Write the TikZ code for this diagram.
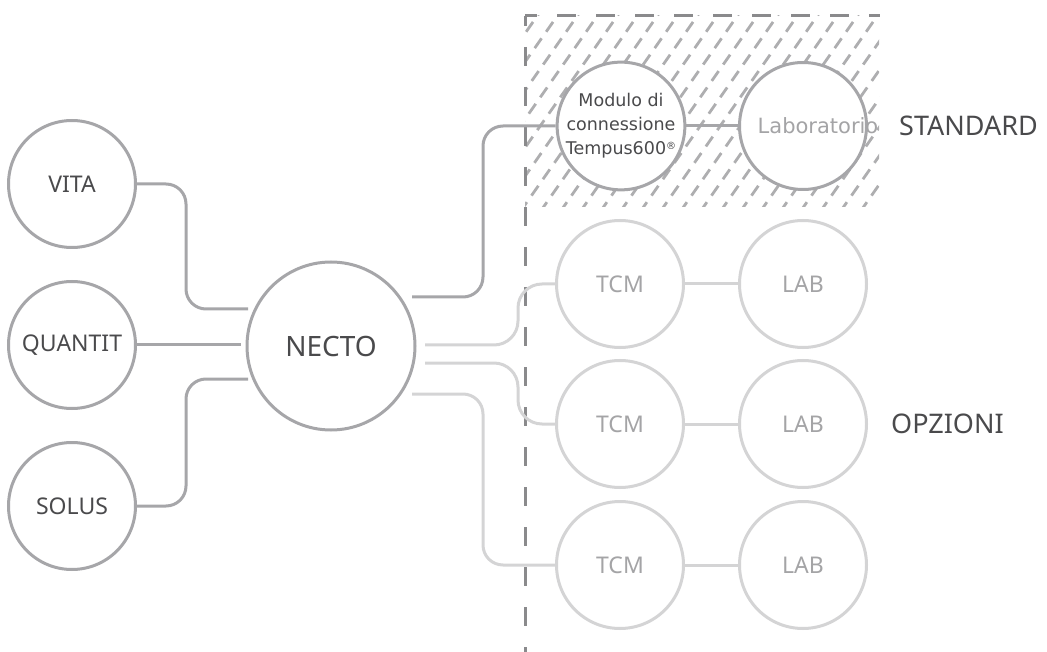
\documentclass[tikz,border=0pt]{standalone}
\usepackage{fontspec}
\setmainfont{Noto Sans}
\newfontfamily\dvs{DejaVu Sans}
\usetikzlibrary{calc}
\definecolor{cdark}{HTML}{A6A6A9}
\definecolor{clight}{HTML}{D4D4D5}
\definecolor{ctext}{HTML}{4A4A4C}
\definecolor{cltext}{HTML}{A4A4A6}
\definecolor{cdash}{HTML}{8A8A8C}
\definecolor{chatch}{HTML}{AEAEB0}
\tikzset{
  bigc/.style={circle, draw=cdark, line width=3pt, fill=white, minimum size=127pt, inner sep=0pt, text=ctext, font=\fontsize{23}{27}\selectfont},
  lightc/.style={bigc, draw=clight, text=cltext},
  darkline/.style={draw=cdark, line width=3pt, rounded corners=20pt},
  lightline/.style={draw=clight, line width=3pt, rounded corners=20pt},
  sline/.style={draw=clight, line width=3pt, rounded corners=24pt},
  border/.style={draw=cdash, line width=3pt},
  hatchline/.style={draw=chatch, line width=2.8pt, dash pattern=on 12pt off 8pt},
  sidelabel/.style={text=ctext, font=\fontsize{27}{30}\selectfont, anchor=west, inner sep=0pt}
}
\begin{document}
\begin{tikzpicture}[x=1pt,y=-1pt]
\useasboundingbox (0,0) rectangle (1047,652);
% hatch
\begin{scope}
  \clip (525,16) rectangle (879,207);
  \foreach \x in {360,380,...,900} {
    \draw[hatchline] (\x,212) -- ++(140,-200);
  }
\end{scope}
% dashed border
\draw[border, dash pattern=on 19pt off 20pt, dash phase=7pt] (525,16) -- (880,16);
\draw[border, dash pattern=on 19pt off 21pt, dash phase=9pt] (525,16) -- (525,652);

% nodes
\node[bigc] (vita) at (72,184) {VITA};
\node[bigc] (quantit) at (72,345) {QUANTIT};
\node[bigc] (solus) at (72,506) {SOLUS};
\node[bigc, minimum size=168pt, font=\fontsize{28}{32}\selectfont] (necto) at (331,346) {NECTO};
\node[bigc, font=\dvs\fontsize{17.5}{24}\selectfont, align=center] (mod) at (621,126) {Modulo di\\connessione\\Tempus600\raisebox{0.55ex}{\fontsize{10}{10}\selectfont ®}};
\node[bigc] (lab0) at (803,126) {};
\node[text=cltext, font=\dvs\fontsize{21}{24}\selectfont, inner sep=0pt] (labtext) at (818,126) {Laboratorio};
\node[lightc] (tcm1) at (620,284) {TCM};
\node[lightc] (lab1) at (803,284) {LAB};
\node[lightc] (tcm2) at (620,424) {TCM};
\node[lightc] (lab2) at (803,424) {LAB};
\node[lightc] (tcm3) at (620,565) {TCM};
\node[lightc] (lab3) at (803,565) {LAB};
\node[sidelabel] (std) at (899,126) {STANDARD};
\node[sidelabel] (opz) at (891,424) {OPZIONI};

% connector end points near NECTO
\coordinate (nvita) at (248,309);
\coordinate (nquant) at (241,345);
\coordinate (nsolus) at (248,379);
\coordinate (nmod) at (412,297);
\coordinate (nt1) at (425,345);
\coordinate (nt2) at (425,363);
\coordinate (nt3) at (412,394);

% left connectors
\draw[darkline] (vita.east) -- ++(49,0) |- (nvita);
\draw[darkline] (quantit.east) -- (nquant);
\draw[darkline] (solus.east) -- ++(49,0) |- (nsolus);
% right connectors
\draw[darkline] (nmod) -- (483,297) |- (mod.west);
\draw[sline] (nt1) -- (518,345) |- (tcm1.west);
\draw[sline] (nt2) -- (518,363) |- (tcm2.west);
\draw[lightline] (nt3) -- (483,394) |- (tcm3.west);
\draw[darkline] (mod.east) -- (lab0.west);
\draw[lightline] (tcm1.east) -- (lab1.west);
\draw[lightline] (tcm2.east) -- (lab2.west);
\draw[lightline] (tcm3.east) -- (lab3.west);
\end{tikzpicture}
\end{document}
